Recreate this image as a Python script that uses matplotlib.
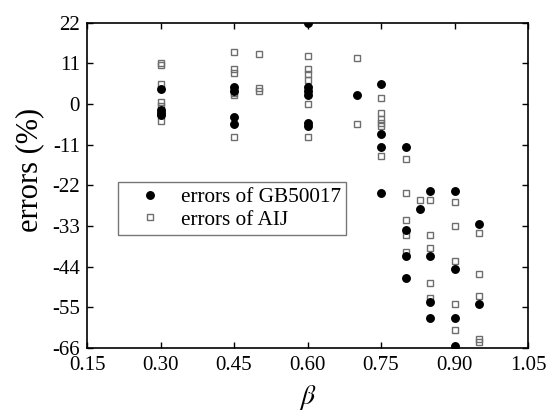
import matplotlib
matplotlib.use("Agg")
import matplotlib.pyplot as plt
import numpy as np

plt.rcParams['font.family'] = ['Liberation Serif', 'DejaVu Serif']
plt.rcParams['mathtext.fontset'] = 'stix'
plt.rcParams['axes.unicode_minus'] = False

# errors of GB50017 (filled circles)
gb_beta = [0.30, 0.30, 0.30, 0.30,
           0.45, 0.45, 0.45, 0.45,
           0.60, 0.60, 0.60, 0.60, 0.60, 0.60,
           0.70,
           0.75, 0.75, 0.75, 0.75,
           0.80, 0.80, 0.80, 0.80,
           0.83,
           0.85, 0.85, 0.85, 0.85,
           0.90, 0.90, 0.90, 0.90,
           0.95, 0.95]
gb_err = [4, -1.5, -2.5, -3,
          4.5, 3.5, -3.5, -5.5,
          22, 4.5, 3.5, 2.5, -5, -6,
          2.5,
          5.5, -8, -11.5, -24,
          -11.5, -34, -41, -47,
          -28.5,
          -23.5, -41, -53.5, -58,
          -23.5, -44.5, -58, -65.5,
          -32.5, -54]

# errors of AIJ (open squares)
aij_beta = [0.30, 0.30, 0.30, 0.30, 0.30, 0.30,
            0.45, 0.45, 0.45, 0.45, 0.45, 0.45,
            0.50, 0.50, 0.50,
            0.60, 0.60, 0.60, 0.60, 0.60, 0.60,
            0.70, 0.70,
            0.75, 0.75, 0.75, 0.75, 0.75, 0.75,
            0.80, 0.80, 0.80, 0.80, 0.80,
            0.83,
            0.85, 0.85, 0.85, 0.85, 0.85,
            0.90, 0.90, 0.90, 0.90, 0.90,
            0.95, 0.95, 0.95, 0.95, 0.95]
aij_err = [11, 10.5, 5.5, 0.5, -0.5, -4.5,
           14, 9.5, 8.5, 3, 2.5, -9,
           13.5, 4.2, 3.6,
           13, 9.5, 8, 6.5, 0, -9,
           12.5, -5.5,
           1.5, -2.5, -4, -5, -6, -14,
           -15, -24, -31.5, -35.5, -40,
           -26,
           -26, -35.5, -39, -48.5, -52.5,
           -26.5, -33, -42.5, -54, -61,
           -35, -46, -52, -63.5, -64.5]

x_ticks = [0.15, 0.30, 0.45, 0.60, 0.75, 0.90, 1.05]
y_ticks = [22, 11, 0, -11, -22, -33, -44, -55, -66]

W, H = 555, 411
fig = plt.figure(figsize=(W / 100, H / 100), dpi=100)
ax = fig.add_axes([87 / W, 1 - 348 / H, (528 - 87) / W, (348 - 22.7) / H])

ax.plot(gb_beta, gb_err, linestyle='none', marker='o', markersize=5.4,
        color='black', label='errors of GB50017', zorder=3)
ax.plot(aij_beta, aij_err, linestyle='none', marker='s', markersize=5.0,
        markerfacecolor='none', markeredgecolor='#6e6e6e', markeredgewidth=1.0,
        label='errors of AIJ', zorder=2)

ax.set_xlim(0.15, 1.05)
ax.set_ylim(-66, 22)
ax.set_xticks(x_ticks)
ax.set_xticklabels([f"{v:.2f}" for v in x_ticks])
ax.set_yticks(y_ticks)
ax.set_yticklabels([str(v) for v in y_ticks])

ax.tick_params(direction='in', length=4.5, width=1.0, labelsize=15,
               top=True, right=True)
ax.tick_params(axis='x', pad=6)
ax.tick_params(axis='y', pad=5)
for s in ax.spines.values():
    s.set_linewidth(1.2)

fig.text(308 / W, 1 - 397 / H, r'$\beta$', fontsize=20, ha='center', va='center')
fig.text(30 / W, 1 - 170 / H, 'errors (%)', fontsize=22, rotation=90,
         ha='center', va='center')

leg = ax.legend(loc='upper left', bbox_to_anchor=((118 - 87) / 441, (348 - 182) / 325.3),
                fontsize=15.3, frameon=True, fancybox=False, edgecolor='#555555',
                handlelength=2.5, handletextpad=0.2, borderpad=0.25,
                labelspacing=0.12, borderaxespad=0)
leg.get_frame().set_linewidth(1.0)

fig.savefig('out.png', dpi=100)
